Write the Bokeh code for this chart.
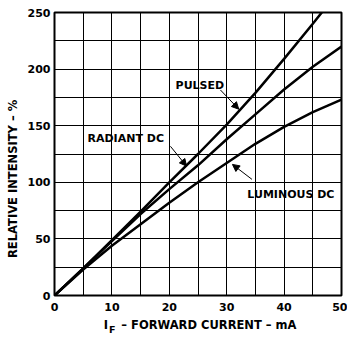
from bokeh.plotting import figure
from bokeh.models import Range1d, FixedTicker, Label, Arrow, NormalHead, LinearAxis
from bokeh.embed import file_html
from bokeh.resources import INLINE

# ---- data ----
current = [0, 5, 10, 15, 20, 25, 30, 35, 40, 45, 50]          # mA
pulsed = [0, 24, 49, 74, 100, 125, 151, 179, 209, 240, 272]    # %
radiant = [0, 24, 48, 72, 94, 115, 138, 160, 182, 202, 220]    # %
luminous = [0, 23, 44, 63, 82, 100, 117, 134, 149, 162, 173]   # %

x_ticks = [0, 10, 20, 30, 40, 50]
y_ticks = [0, 50, 100, 150, 200, 250]
x_grid = [0, 5, 10, 15, 20, 25, 30, 35, 40, 45, 50]
y_grid = [0, 25, 50, 75, 100, 125, 150, 175, 200, 225, 250]

y_title = "RELATIVE INTENSITY \u2013 %"
x_title_main = "I"
x_title_sub = "F"
x_title_rest = "\u2013 FORWARD CURRENT \u2013 mA"

FONT = "DejaVu Sans"

p = figure(width=347, height=337, x_range=Range1d(0, 50), y_range=Range1d(0, 250),
           output_backend="svg", toolbar_location=None,
           min_border_left=54, min_border_right=6, min_border_top=12, min_border_bottom=40)
p.background_fill_color = "white"
p.border_fill_color = "white"
p.outline_line_color = "black"
p.outline_line_width = 2

p.xgrid.ticker = FixedTicker(ticks=x_grid)
p.ygrid.ticker = FixedTicker(ticks=y_grid)
for g in (p.xgrid, p.ygrid):
    g.grid_line_color = "black"
    g.grid_line_width = 1
    g.grid_line_alpha = 1


def style_axis(ax, size="11px", standoff=4):
    ax.axis_line_color = None
    ax.major_tick_line_color = None
    ax.minor_tick_line_color = None
    ax.major_tick_in = 0
    ax.major_tick_out = 0
    ax.major_label_text_font = FONT
    ax.major_label_text_font_style = "bold"
    ax.major_label_text_font_size = size
    ax.major_label_text_color = "black"
    ax.major_label_standoff = standoff


xa = p.xaxis[0]
ya = p.yaxis[0]
xa.ticker = FixedTicker(ticks=x_ticks)
ya.ticker = FixedTicker(ticks=y_ticks)
style_axis(xa, standoff=7)
style_axis(ya, standoff=4)

# y-axis title as a rotated single-tick axis
y_pos = 103.0
yt = LinearAxis(ticker=FixedTicker(ticks=[y_pos]), major_label_overrides={y_pos: y_title},
                major_label_orientation="parallel")
style_axis(yt, size="11.5px", standoff=4)
p.add_layout(yt, "left")

# x-axis title, with subscript F
xi, xr, xf = 8.97, 26.9, 10.05
xt = LinearAxis(ticker=FixedTicker(ticks=[xi, xr]),
                major_label_overrides={xi: x_title_main, xr: x_title_rest})
style_axis(xt, size="11.5px", standoff=4)
p.add_layout(xt, "below")
xs = LinearAxis(ticker=FixedTicker(ticks=[xf]), major_label_overrides={xf: x_title_sub})
style_axis(xs, size="9.5px", standoff=-11)
p.add_layout(xs, "below")

for ys in (pulsed, radiant, luminous):
    p.line(current, ys, line_color="black", line_width=2.5)


def lab(x, y, text, size="11px"):
    p.add_layout(Label(x=x, y=y, text=text, text_font=FONT, text_font_style="bold",
                       text_font_size=size, text_color="black",
                       text_baseline="middle", text_align="left"))


lab(21.1, 185.4, "PULSED")
lab(5.75, 138.3, "RADIANT DC")
lab(33.6, 89.5, "LUMINOUS DC")

for (x0, y0, x1, y1) in [(28.9, 181.6, 32.1, 164.6),
                         (20.2, 131.8, 23.0, 114.3),
                         (34.4, 102.6, 31.0, 115.8)]:
    p.add_layout(Arrow(x_start=x0, y_start=y0, x_end=x1, y_end=y1, line_width=1,
                       line_color="black",
                       end=NormalHead(size=7, fill_color="black", line_color="black")))

open("out.html", "w").write(file_html(p, INLINE))
